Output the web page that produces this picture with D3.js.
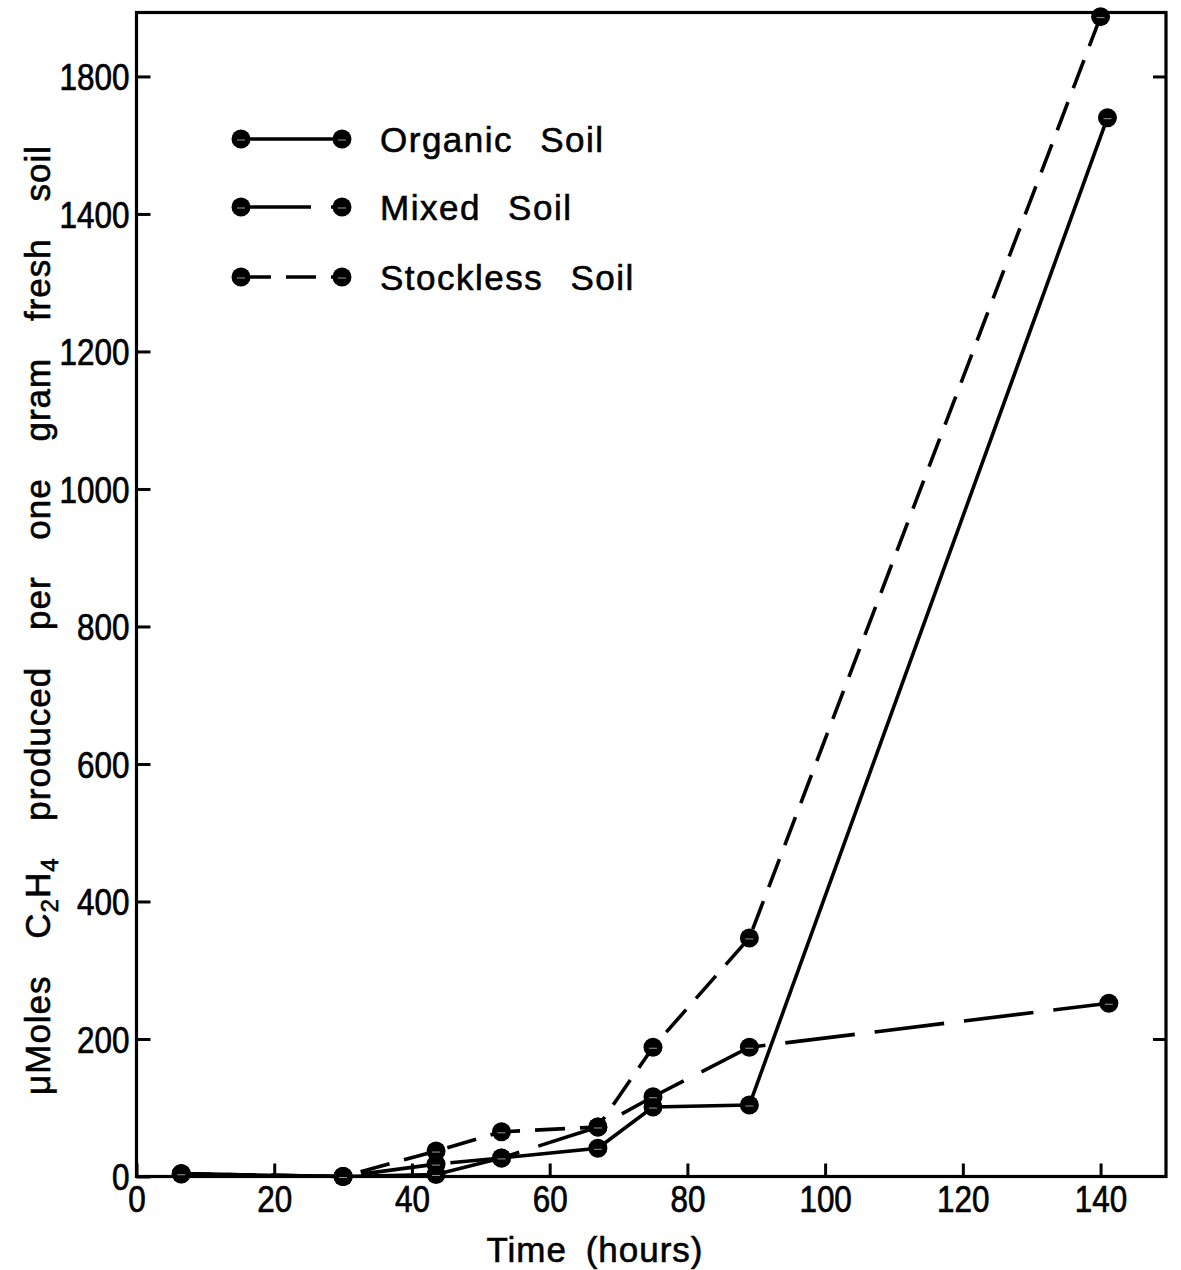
<!DOCTYPE html>
<html>
<head>
<meta charset="utf-8">
<script src="https://cdn.jsdelivr.net/npm/d3@7"></script>
<style>
  html, body { margin: 0; padding: 0; background: #fff; }
  svg { display: block; }
  .tick-num { font-family: "Liberation Sans", Arial, sans-serif; font-size: 37px; fill: #000; stroke: #000; stroke-width: 0.7px; }
  .label { font-family: "Liberation Sans", Arial, sans-serif; font-size: 35px; fill: #000; stroke: #000; stroke-width: 0.6px; }
</style>
</head>
<body>
<svg id="chart" width="1181" height="1270"></svg>
<script>
// Acetylene reduction (C2H4 produced) over time for three soils
const seriesNames = ["Organic Soil", "Mixed Soil", "Stockless Soil"];

const organicHours = [6.5, 30, 43.5, 53, 67, 75, 89, 141];
const organicValues = [4, 0, 3, 27, 41, 101, 104, 1540];

const mixedHours = [6.5, 30, 43.5, 53, 67, 75, 89, 141.2];
const mixedValues = [4, 0, 18, 27, 72, 116, 188, 252];

const stocklessHours = [6.5, 30, 43.5, 53, 67, 75, 89, 140];
const stocklessValues = [4, 0, 37, 65, 72, 188, 347, 1687];

const xTickValues = [0, 20, 40, 60, 80, 100, 120, 140];
const xTickLabels = ["0", "20", "40", "60", "80", "100", "120", "140"];
const yTickValues = [0, 200, 400, 600, 800, 1000, 1200, 1400, 1600];
const yTickLabels = ["0", "200", "400", "600", "800", "1000", "1200", "1400", "1800"];
const yRightTickValues = [200, 1600];

const xTitle = "Time  (hours)";

const svg = d3.select("#chart");

const x = d3.scaleLinear().domain([0, 149.5]).range([136.5, 1166]);
const y = d3.scaleLinear().domain([0, 1693]).range([1176.5, 12.5]);

const plotLeft = x.range()[0], plotRight = x.range()[1];
const plotBottom = y.range()[0], plotTop = y.range()[1];

// Narrow the tick numerals horizontally
const squeeze = 0.85;

// Frame
svg.append("rect")
  .attr("x", plotLeft).attr("y", plotTop)
  .attr("width", plotRight - plotLeft).attr("height", plotBottom - plotTop)
  .attr("fill", "none").attr("stroke", "#000").attr("stroke-width", 3.2);

// Bottom axis: inward ticks
const xAxis = d3.axisBottom(x).tickValues(xTickValues).tickSize(-13).tickPadding(20)
  .tickFormat((d, i) => xTickLabels[i]);
const gx = svg.append("g").attr("transform", `translate(0,${plotBottom})`).call(xAxis);
gx.select(".domain").remove();
gx.selectAll(".tick line").attr("stroke", "#000").attr("stroke-width", 3);
gx.selectAll(".tick text").attr("class", "tick-num").attr("font-family", null).attr("font-size", null)
  .attr("dy", "0.71em").attr("y", 9).attr("transform", `scale(${squeeze},1)`);

// Left axis: inward ticks
const yAxis = d3.axisLeft(y).tickValues(yTickValues).tickSize(-14).tickPadding(8)
  .tickFormat((d, i) => yTickLabels[i]);
const gy = svg.append("g").attr("transform", `translate(${plotLeft},0)`).call(yAxis);
gy.select(".domain").remove();
gy.selectAll(".tick line").attr("stroke", "#000").attr("stroke-width", 3);
gy.selectAll(".tick text").attr("class", "tick-num").attr("font-family", null).attr("font-size", null)
  .attr("x", -7 / squeeze).attr("dy", "0.36em").attr("transform", `scale(${squeeze},1)`);

// Right edge ticks
const gr = svg.append("g").attr("transform", `translate(${plotRight},0)`)
  .call(d3.axisRight(y).tickValues(yRightTickValues).tickSize(-13).tickFormat(""));
gr.select(".domain").remove();
gr.selectAll(".tick line").attr("stroke", "#000").attr("stroke-width", 3);

// Series
const series = [
  { name: seriesNames[0], hours: organicHours, values: organicValues, dash: null },
  { name: seriesNames[1], hours: mixedHours, values: mixedValues, dash: "70,20" },
  { name: seriesNames[2], hours: stocklessHours, values: stocklessValues, dash: "30,15" }
];

const line = d3.line().x(d => x(d[0])).y(d => y(d[1]));

series.forEach(s => {
  const pts = s.hours.map((h, i) => [h, s.values[i]]);
  svg.append("path")
    .datum(pts)
    .attr("d", line)
    .attr("fill", "none")
    .attr("stroke", "#000")
    .attr("stroke-width", 3.6)
    .attr("stroke-dasharray", s.dash);
});

function marker(g, cx, cy) {
  g.append("circle").attr("cx", cx).attr("cy", cy).attr("r", 9.5).attr("fill", "#000");
  g.append("line").attr("x1", cx - 4).attr("x2", cx + 4).attr("y1", cy + 1).attr("y2", cy + 1)
    .attr("stroke", "#fff").attr("stroke-width", 1).attr("opacity", 0.6);
}

const markers = svg.append("g");
series.forEach(s => {
  s.hours.forEach((h, i) => marker(markers, x(h), y(s.values[i])));
});

// Legend
const legend = svg.append("g");
const legRows = [139, 207, 277];
series.forEach((s, i) => {
  const yy = legRows[i];
  legend.append("line").attr("x1", 241).attr("x2", 342).attr("y1", yy).attr("y2", yy)
    .attr("stroke", "#000").attr("stroke-width", 3.6).attr("stroke-dasharray", s.dash);
  marker(legend, 241, yy);
  marker(legend, 342, yy);
  legend.append("text").attr("class", "label")
    .attr("x", 380).attr("y", yy).attr("dy", "0.36em")
    .attr("letter-spacing", 1.5).attr("word-spacing", 16)
    .text(s.name);
});

// Axis titles
svg.append("text").attr("class", "label")
  .attr("x", 595).attr("y", 1262).attr("text-anchor", "middle")
  .attr("letter-spacing", 1).attr("word-spacing", 8)
  .text(xTitle);

const yTitle = svg.append("text").attr("class", "label")
  .attr("transform", "translate(50,620) rotate(-90)")
  .attr("text-anchor", "middle")
  .attr("letter-spacing", 1).attr("word-spacing", 26);
yTitle.append("tspan").text("\u03bcMoles  C");
yTitle.append("tspan").attr("font-size", 24).attr("dy", 8).text("2");
yTitle.append("tspan").attr("dy", -8).text("H");
yTitle.append("tspan").attr("font-size", 24).attr("dy", 8).text("4");
yTitle.append("tspan").attr("dy", -8).text(" produced  per  one  gram  fresh  soil");
</script>
</body>
</html>
